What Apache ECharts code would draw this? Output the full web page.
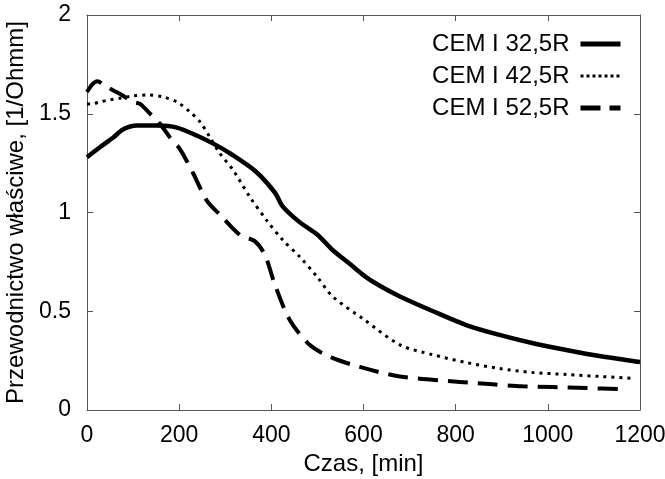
<!DOCTYPE html>
<html>
<head>
<meta charset="utf-8">
<script src="https://cdn.jsdelivr.net/npm/echarts@6/dist/echarts.min.js"></script>
<style>
html,body{margin:0;padding:0;background:#fff;}
#c{width:665px;height:479px;}
</style>
</head>
<body>
<div id="c"></div>
<script>
const seriesNames = ['CEM I 32,5R', 'CEM I 42,5R', 'CEM I 52,5R'];

const t325 = [0, 28, 57, 78, 108, 152, 195, 238, 273, 310, 365, 408, 425, 462, 499, 533, 570, 607, 642, 679, 751, 823, 895, 968, 1040, 1112, 1184, 1200];
const v325 = [1.28, 1.33, 1.38, 1.42, 1.44, 1.44, 1.43, 1.39, 1.35, 1.30, 1.21, 1.10, 1.03, 0.95, 0.89, 0.81, 0.74, 0.67, 0.62, 0.575, 0.50, 0.43, 0.38, 0.338, 0.304, 0.273, 0.248, 0.243];

const t425 = [0, 10, 28, 50, 75, 100, 130, 165, 195, 223, 245, 267, 288, 317, 353, 390, 425, 462, 499, 533, 600, 679, 750, 824, 895, 967, 1040, 1112, 1190];
const v425 = [1.55, 1.55, 1.56, 1.57, 1.58, 1.59, 1.595, 1.585, 1.56, 1.51, 1.46, 1.38, 1.30, 1.215, 1.08, 0.96, 0.86, 0.775, 0.675, 0.575, 0.46, 0.33, 0.28, 0.24, 0.21, 0.19, 0.18, 0.17, 0.16];

const t525 = [0, 12, 22, 40, 72, 100, 115, 137, 158, 180, 202, 230, 260, 288, 332, 364, 386, 408, 440, 483, 527, 592, 679, 809, 880, 945, 1010, 1084, 1158];
const v525 = [1.61, 1.65, 1.665, 1.64, 1.60, 1.56, 1.55, 1.50, 1.45, 1.38, 1.32, 1.20, 1.06, 0.99, 0.886, 0.855, 0.785, 0.633, 0.456, 0.33, 0.27, 0.218, 0.17, 0.142, 0.13, 0.12, 0.116, 0.111, 0.106];

const xTicks = [0, 200, 400, 600, 800, 1000, 1200];
const yTicks = [0, 0.5, 1, 1.5, 2];

function pairs(t, v) { return t.map((x, i) => [x, v[i]]); }

const FONT = 'Liberation Sans';
const axisCol = '#555';

const chart = echarts.init(document.getElementById('c'), null, {renderer: 'canvas'});

const baseX = {
  type: 'value', min: 0, max: 1200, interval: 200,
  axisLine: {show: true, onZero: false, lineStyle: {color: axisCol, width: 1}},
  axisTick: {show: true, inside: true, length: 6, lineStyle: {color: axisCol}},
  splitLine: {show: false}
};
const baseY = {
  type: 'value', min: 0, max: 2, interval: 0.5,
  axisLine: {show: true, onZero: false, lineStyle: {color: axisCol, width: 1}},
  axisTick: {show: true, inside: true, length: 6, lineStyle: {color: axisCol}},
  splitLine: {show: false}
};

chart.setOption({
  animation: false,
  backgroundColor: '#fff',
  textStyle: {fontFamily: FONT},
  grid: {left: 87, right: 25, top: 15, bottom: 69, containLabel: false, outerBoundsMode: 'none'},
  legend: {
    show: true,
    right: 37, top: 27,
    orient: 'vertical',
    align: 'right',
    itemWidth: 40, itemHeight: 14,
    itemGap: 8,
    itemStyle: {opacity: 0},
    textStyle: {fontFamily: FONT, fontSize: 24, color: '#000', padding: [0, 6, 0, 0]},
    data: [
      {name: seriesNames[0], lineStyle: {width: 5, type: 'solid'}},
      {name: seriesNames[1], lineStyle: {width: 3, type: [3, 3]}},
      {name: seriesNames[2], lineStyle: {width: 5, type: [20, 9]}}
    ]
  },
  xAxis: [
    Object.assign({}, baseX, {
      position: 'bottom',
      name: 'Czas, [min]', nameLocation: 'middle', nameGap: 41,
      nameTextStyle: {fontFamily: FONT, fontSize: 24, color: '#000'},
      axisLabel: {show: true, fontFamily: FONT, fontSize: 23, color: '#000', margin: 14,
        formatter: v => xTicks.includes(v) ? String(v) : ''}
    }),
    Object.assign({}, baseX, {position: 'top', axisLabel: {show: false}})
  ],
  yAxis: [
    Object.assign({}, baseY, {
      position: 'left',
      name: 'Przewodnictwo właściwe, [1/Ohmm]', nameLocation: 'middle', nameGap: 55,
      nameTextStyle: {fontFamily: FONT, fontSize: 24, color: '#000'},
      axisLabel: {show: true, fontFamily: FONT, fontSize: 23, color: '#000', margin: 16,
        formatter: v => yTicks.includes(v) ? String(v) : ''}
    }),
    Object.assign({}, baseY, {position: 'right', axisLabel: {show: false}})
  ],
  series: [
    {
      name: seriesNames[0], type: 'line', data: pairs(t325, v325),
      symbol: 'none', showSymbol: false, smooth: 0.3,
      lineStyle: {color: '#000', width: 4.5, type: 'solid'},
      itemStyle: {color: '#000'}
    },
    {
      name: seriesNames[1], type: 'line', data: pairs(t425, v425),
      symbol: 'none', showSymbol: false, smooth: 0.3,
      lineStyle: {color: '#000', width: 3, type: [3, 5]},
      itemStyle: {color: '#000'}
    },
    {
      name: seriesNames[2], type: 'line', data: pairs(t525, v525),
      symbol: 'none', showSymbol: false, smooth: 0.3,
      lineStyle: {color: '#000', width: 4, type: [20, 10]},
      itemStyle: {color: '#000'}
    }
  ]
});
</script>
</body>
</html>
